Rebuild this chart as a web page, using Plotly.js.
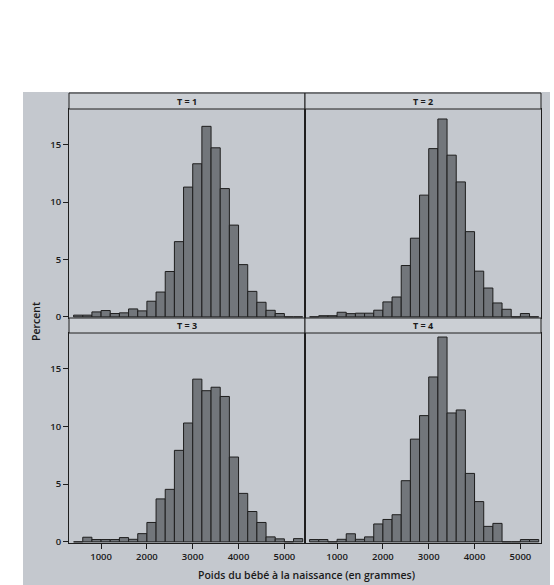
<!DOCTYPE html>
<html>
<head>
<meta charset="utf-8">
<script src="https://cdn.plot.ly/plotly-3.0.1.min.js"></script>
<style>
  html, body { margin: 0; padding: 0; background: #ffffff; }
  #chart { width: 554px; height: 585px; }
</style>
</head>
<body>
<div id="chart"></div>
<script>
// Left edges of the 200 g histogram bins (grammes)
const binStarts = [400, 600, 800, 1000, 1200, 1400, 1600, 1800, 2000, 2200, 2400, 2600,
                   2800, 3000, 3200, 3400, 3600, 3800, 4000, 4200, 4400, 4600, 4800, 5000, 5200];
const binWidth = 200;

// Percent of babies per bin, one array per panel
const pctT1 = [0.15, 0.15, 0.43, 0.55, 0.29, 0.35, 0.69, 0.52, 1.36, 2.16, 3.95, 6.55,
               11.3, 13.33, 16.59, 14.72, 11.17, 7.99, 4.55, 2.22, 1.27, 0.57, 0.29, 0, 0];
const pctT2 = [0, 0.1, 0.1, 0.4, 0.28, 0.32, 0.32, 0.58, 1.3, 1.73, 4.47, 6.85,
               10.6, 14.65, 17.23, 14.08, 11.75, 7.42, 3.98, 2.51, 1.21, 0.66, 0, 0.29, 0];
const pctT3 = [0, 0.4, 0.2, 0.2, 0.2, 0.37, 0.22, 0.71, 1.68, 3.72, 4.55, 7.93,
               10.3, 14.1, 13.1, 13.4, 12.6, 7.35, 4.2, 2.63, 1.68, 0.43, 0.26, 0, 0.28];
const pctT4 = [0.2, 0.2, 0, 0.22, 0.7, 0.22, 0.43, 1.55, 1.94, 2.35, 5.3, 8.9,
               10.94, 14.29, 17.75, 11.17, 11.43, 5.93, 3.49, 1.34, 1.6, 0, 0, 0.2, 0.2];

const panelLabels = ["T = 1", "T = 2", "T = 3", "T = 4"];
const yTicks = [0, 5, 10, 15];
const xTicks = [1000, 2000, 3000, 4000, 5000];
const xTitle = "Poids du bébé à la naissance (en grammes)";
const yTitle = "Percent";

const W = 554, H = 585;
const px = v => v / W;
const py = v => 1 - v / H;

const barFill = "#72767b";
const lineCol = "#1e1e1e";
const panelBg = "#cbcfd4";
const outerBg = "#c4c8ce";
const font = { family: "Open Sans, DejaVu Sans, sans-serif", color: "#1a1a1a" };

const series = [pctT1, pctT2, pctT3, pctT4];
const traces = series.map((vals, i) => ({
  type: "bar",
  x: binStarts,
  y: vals,
  width: binWidth,
  offset: 0,
  xaxis: i === 0 ? "x" : "x" + (i + 1),
  yaxis: i === 0 ? "y" : "y" + (i + 1),
  marker: { color: barFill, line: { color: lineCol, width: 1 } },
  hoverinfo: "x+y",
  showlegend: false
}));

// geometry (pixels)
const leftX = [69, 305], rightX = [305, 541];
const topStrip = [93, 109], topPlot = [109, 318];
const botStrip = [318, 333], botPlot = [333, 543];

function xa(dom, showLabels) {
  return {
    domain: [px(dom[0]), px(dom[1])],
    range: [300, 5450],
    showgrid: false, zeroline: false,
    showline: true, linecolor: lineCol, linewidth: 1, mirror: true,
    tickmode: "array", tickvals: xTicks,
    ticks: showLabels ? "outside" : "", ticklen: 5, tickcolor: lineCol,
    showticklabels: showLabels,
    tickfont: { family: font.family, size: 9.5, color: font.color, weight: 600 },
    fixedrange: true
  };
}
function ya(dom, showLabels) {
  return {
    domain: [py(dom[1]), py(dom[0])],
    range: [-0.1, 18.1],
    showgrid: false, zeroline: false,
    showline: true, linecolor: lineCol, linewidth: 1, mirror: true,
    tickmode: "array", tickvals: yTicks,
    ticks: showLabels ? "outside" : "", ticklen: 5, tickcolor: lineCol,
    showticklabels: showLabels,
    tickfont: { family: font.family, size: 9.5, color: font.color, weight: 600 },
    fixedrange: true
  };
}

const shapes = [
  // outer gray wall
  { type: "rect", xref: "paper", yref: "paper", layer: "below",
    x0: px(23), x1: px(550), y0: 0, y1: py(92),
    fillcolor: outerBg, line: { width: 0 } }
];
const annotations = [];
const strips = [
  [leftX, topStrip, panelLabels[0]],
  [rightX, topStrip, panelLabels[1]],
  [leftX, botStrip, panelLabels[2]],
  [rightX, botStrip, panelLabels[3]]
];
strips.forEach(([xs, ys, label]) => {
  shapes.push({ type: "rect", xref: "paper", yref: "paper",
    x0: px(xs[0]), x1: px(xs[1]), y0: py(ys[1]), y1: py(ys[0]),
    fillcolor: panelBg, line: { color: lineCol, width: 1 } });
  annotations.push({ xref: "paper", yref: "paper",
    x: px((xs[0] + xs[1]) / 2), y: py((ys[0] + ys[1]) / 2),
    text: label, showarrow: false, xanchor: "center", yanchor: "middle",
    font: { family: font.family, size: 9, color: font.color, weight: 700 } });
});
annotations.push({ xref: "paper", yref: "paper", x: px(306), y: py(575),
  text: xTitle, showarrow: false, xanchor: "center", yanchor: "middle",
  font: { family: font.family, size: 10.5, color: font.color, weight: 600 } });
annotations.push({ xref: "paper", yref: "paper", x: px(36), y: py(322),
  text: yTitle, showarrow: false, textangle: -90, xanchor: "center", yanchor: "middle",
  font: { family: font.family, size: 10.5, color: font.color, weight: 600 } });

const layout = {
  width: W, height: H,
  margin: { l: 0, r: 0, t: 0, b: 0, pad: 0 },
  paper_bgcolor: "#ffffff",
  plot_bgcolor: panelBg,
  font: font,
  bargap: 0,
  showlegend: false,
  xaxis: Object.assign(xa(leftX, false), { anchor: "y" }),
  yaxis: Object.assign(ya(topPlot, true), { anchor: "x" }),
  xaxis2: Object.assign(xa(rightX, false), { anchor: "y2" }),
  yaxis2: Object.assign(ya(topPlot, false), { anchor: "x2" }),
  xaxis3: Object.assign(xa(leftX, true), { anchor: "y3" }),
  yaxis3: Object.assign(ya(botPlot, true), { anchor: "x3" }),
  xaxis4: Object.assign(xa(rightX, true), { anchor: "y4" }),
  yaxis4: Object.assign(ya(botPlot, false), { anchor: "x4" }),
  shapes: shapes,
  annotations: annotations
};

Plotly.newPlot("chart", traces, layout, { displayModeBar: false, staticPlot: true });
</script>
</body>
</html>
